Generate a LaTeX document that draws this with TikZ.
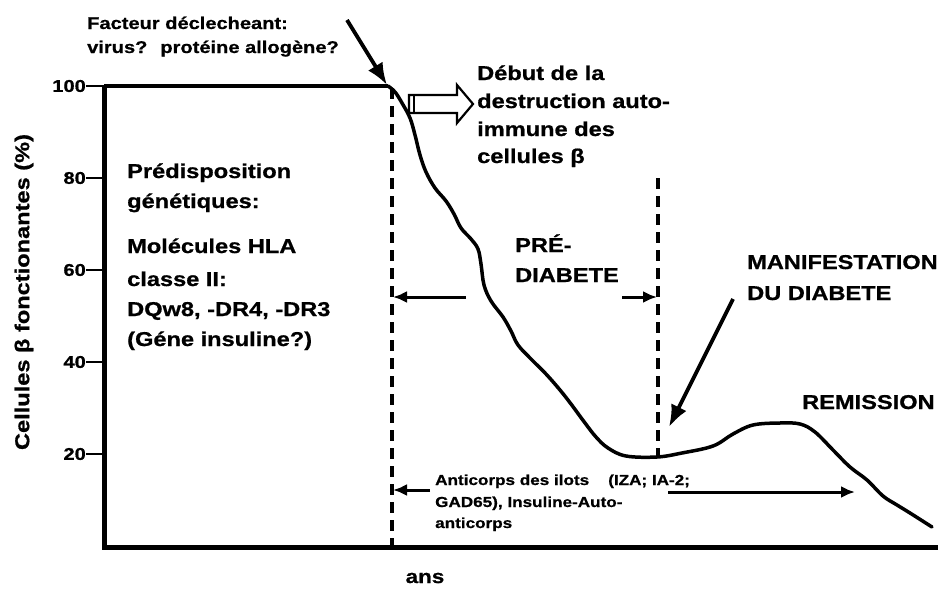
\documentclass[tikz,border=0pt]{standalone}
\usepackage{fontspec}
\setmainfont{Liberation Sans}[FakeStretch=1.18, BoldFeatures={FakeBold=0.8}]
\usetikzlibrary{arrows.meta}
\begin{document}
\begin{tikzpicture}[x=1pt,y=-1pt,
  lbl/.style={inner sep=0pt, anchor=base west, font=\bfseries\fontsize{20}{24}\selectfont},
  mid/.style={inner sep=0pt, anchor=base west, font=\bfseries\fontsize{17}{20}\selectfont},
  sml/.style={inner sep=0pt, anchor=base west, font=\bfseries\fontsize{14.5}{18}\selectfont},
  ticklbl/.style={inner sep=0pt, anchor=east, font=\bfseries\fontsize{17}{20}\selectfont},
  tickln/.style={line width=1.6pt},
  curve/.style={line width=3.5pt, line join=round, line cap=round},
  axisln/.style={line width=5pt},
  dashln/.style={line width=3.4pt, dash pattern=on 11pt off 7pt},
  thinarr/.style={line width=3pt, -{Latex[length=14pt,width=12pt]}},
  bigarr/.style={line width=3.8pt, -{Latex[length=22pt,width=17pt]}},
  hollow/.style={line width=2.2pt, line join=miter},
]
\fill[white] (0,0) rectangle (948,589);
\path[use as bounding box] (0,0) rectangle (948,589);

% axes
\coordinate (o) at (104,547);
\coordinate (top) at (104,86);
\coordinate (xend) at (938,547);
\draw[axisln] (top) -- (o) -- (xend);

% ticks and labels
\foreach \v/\y in {100/86,80/178,60/270,40/362,20/454}{
  \coordinate (t\v) at (86,\y);
  \coordinate (a\v) at (104,\y);
  \draw[tickln] (t\v) -- (a\v);
  \node[ticklbl] (l\v) at (t\v) {\v};
}

% y label
\node[inner sep=0pt, rotate=90, font=\bfseries\fontsize{20}{24}\selectfont] (ylab) at (24,292) {Cellules β fonctionantes (\%)};
\node[inner sep=0pt, font=\bfseries\fontsize{19}{22}\selectfont] (ans) at (425,578) {ans};

% curve
\coordinate (c0) at (388,86);
\draw[line width=3.4pt] (top) -- (c0);
\draw[curve] plot[smooth, tension=0.6] coordinates {
 (388,86) (395,92) (402,103) (410,118) (415,135) (420,155) (426,172) (435,188)
 (446,201) (454,214) (461,228) (471,239) (478,249) (481,264) (484,285) (491,301)
 (503,317) (511,331) (518,345) (531,359) (546,374) (560,390) (571,404) (585,423)
 (596,437) (608,448) (626,456) (657,457) (682,453) (713,446) (733,434) (753,425)
 (780,423) (800,424) (815,432) (833,450) (850,467) (867,480) (883,496) (897,505)
 (910,513) (932,527)};

% dashed lines
\coordinate (d1t) at (392,88);
\coordinate (d1b) at (392,545);
\draw[dashln] (d1t) -- (d1b);
\coordinate (d2t) at (658,178);
\coordinate (d2b) at (658,457);
\draw[dashln] (d2t) -- (d2b);

% facteur
\node[mid] (fac1) at (87,29) {Facteur déclecheant:};
\node[mid] (fac2) at (87,53) {virus?~ protéine allogène?};
\coordinate (facs) at (347,20);
\coordinate (face) at (387,85);
\draw[bigarr] (facs) -- (face);

% hollow arrow
\coordinate (h1) at (409,95);
\coordinate (h2) at (457,95);
\coordinate (h3) at (457,85);
\coordinate (h4) at (473,104);
\coordinate (h5) at (457,123);
\coordinate (h6) at (457,113);
\coordinate (h7) at (409,113);
\draw[hollow] (h1) -- (h2) -- (h3) -- (h4) -- (h5) -- (h6) -- (h7) -- cycle;
\coordinate (h8) at (414,95);
\coordinate (h9) at (414,113);
\draw[line width=2.2pt] (h8) -- (h9);

% debut text
\node[lbl] (deb1) at (477,80) {Début de la};
\node[lbl] (deb2) at (477,108) {destruction auto-};
\node[lbl] (deb3) at (477,136) {immune des};
\node[lbl] (deb4) at (477,163) {cellules β};

% predisposition
\node[lbl] (pre1) at (127,178) {Prédisposition};
\node[lbl] (pre2) at (127,208) {génétiques:};
\node[lbl] (pre3) at (127,253) {Molécules HLA};
\node[lbl] (pre4) at (127,286) {classe II:};
\node[lbl] (pre5) at (127,316) {DQw8, -DR4, -DR3};
\node[lbl] (pre6) at (127,346) {(Géne insuline?)};

% pre-diabete
\node[lbl] (pd1) at (515,252) {PRÉ-};
\node[lbl] (pd2) at (515,282) {DIABETE};
\coordinate (pdl0) at (466,297);
\coordinate (pdl1) at (393,297);
\draw[thinarr] (pdl0) -- (pdl1);
\coordinate (pdr0) at (622,297);
\coordinate (pdr1) at (657,297);
\draw[thinarr] (pdr0) -- (pdr1);

% manifestation
\node[lbl] (man1) at (747,269) {MANIFESTATION};
\node[lbl] (man2) at (747,300) {DU DIABETE};
\coordinate (mans) at (733,299);
\coordinate (mane) at (669,427);
\draw[bigarr] (mans) -- (mane);

% remission
\node[lbl] (rem) at (802,409) {REMISSION};

% anticorps
\node[sml] (ac1) at (435,485) {Anticorps des ilots~~~ (IZA; IA-2;};
\node[sml] (ac2) at (435,507) {GAD65), Insuline-Auto-};
\node[sml] (ac3) at (435,528) {anticorps};
\coordinate (acl0) at (430,490);
\coordinate (acl1) at (393,490);
\draw[thinarr] (acl0) -- (acl1);
\coordinate (acr0) at (668,492);
\coordinate (acr1) at (855,492);
\draw[thinarr] (acr0) -- (acr1);
\end{tikzpicture}
\end{document}
